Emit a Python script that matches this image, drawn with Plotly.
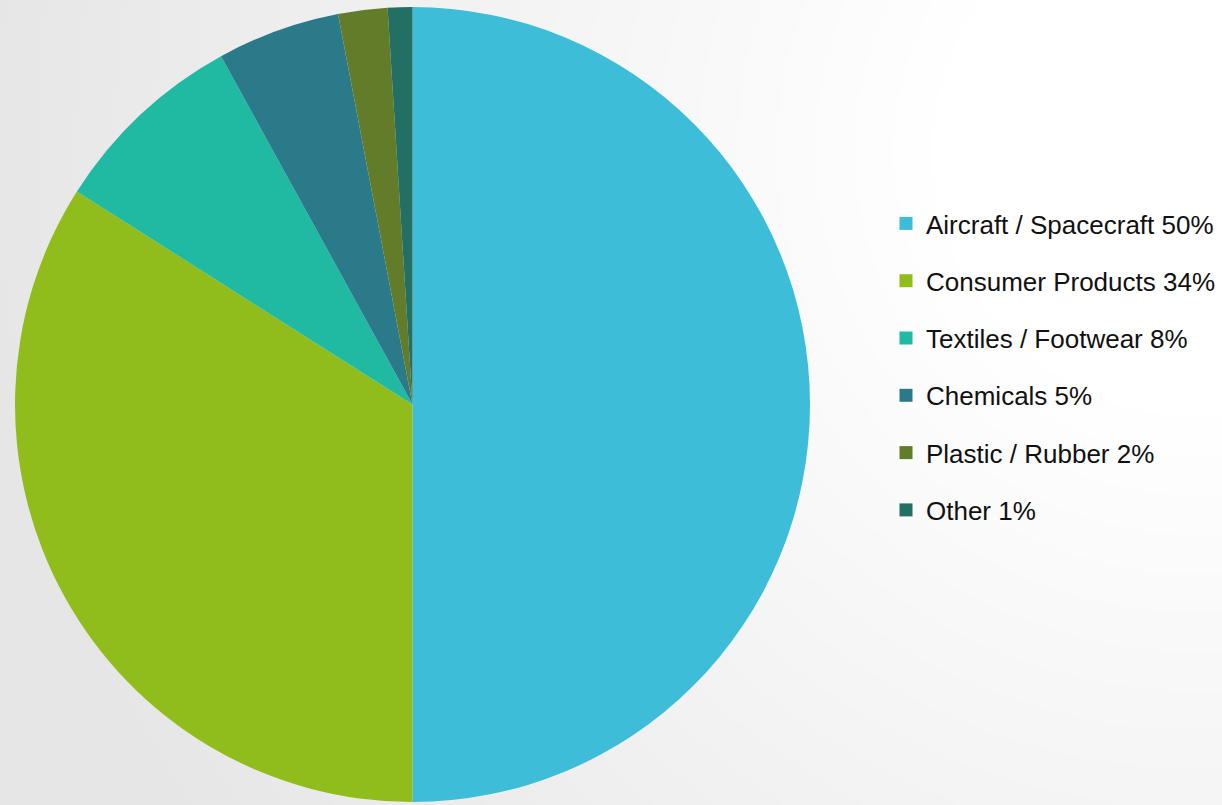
import base64, struct, zlib
import plotly.graph_objects as go

# ---- data ----
categories = ["Aircraft / Spacecraft", "Consumer Products", "Textiles / Footwear",
              "Chemicals", "Plastic / Rubber", "Other"]
shares = [50, 34, 8, 5, 2, 1]
slice_colors = ["#3dbdd8", "#90bd1b", "#20b9a2", "#2a7a8a", "#627c2a", "#236f63"]

legend_labels = [f"{c} {v}%" for c, v in zip(categories, shares)]

# ---- soft radial background (style only) ----
W, H = 306, 202
def make_bg_png():
    rows = []
    cx, cy, r0, k = 1200 / 4, 150 / 4, 250, 0.0256
    for j in range(H):
        row = bytearray([0])
        for i in range(W):
            d = ((i - cx) ** 2 + (j - cy) ** 2) ** 0.5 * 4
            v = int(round(max(230, min(255, 255 - k * max(0.0, d - r0)))))
            row += bytes([v, v, v])
        rows.append(bytes(row))
    raw = b"".join(rows)
    def chunk(t, data):
        c = struct.pack(">I", len(data)) + t + data
        return c + struct.pack(">I", zlib.crc32(t + data) & 0xffffffff)
    png = b"\x89PNG\r\n\x1a\n"
    png += chunk(b"IHDR", struct.pack(">IIBBBBB", W, H, 8, 2, 0, 0, 0))
    png += chunk(b"IDAT", zlib.compress(raw, 9))
    png += chunk(b"IEND", b"")
    return "data:image/png;base64," + base64.b64encode(png).decode()

fig = go.Figure()
fig.add_trace(go.Pie(
    labels=legend_labels,
    values=shares,
    sort=False,
    direction="clockwise",
    rotation=0,
    textinfo="none",
    hoverinfo="label+percent",
    showlegend=False,
    marker=dict(colors=slice_colors, line=dict(width=0)),
    domain=dict(x=[14 / 1222, 811 / 1222], y=[3 / 805, 798 / 805]),
))

# legend entries (one group each so spacing can be set)
for lab, col in zip(legend_labels, slice_colors):
    fig.add_trace(go.Scatter(
        x=[None], y=[None], mode="markers", name=lab, legendgroup=lab,
        marker=dict(symbol="square", size=13, color=col),
        hoverinfo="skip",
    ))

fig.update_layout(
    width=1222, height=805,
    margin=dict(l=0, r=0, t=0, b=0),
    paper_bgcolor="#ffffff",
    plot_bgcolor="rgba(0,0,0,0)",
    xaxis=dict(visible=False),
    yaxis=dict(visible=False),
    font=dict(family="Liberation Sans, Arial, sans-serif", size=26, color="#000000"),
    legend=dict(
        x=886 / 1222, y=(805 - 200) / 805, xanchor="left", yanchor="top",
        bgcolor="rgba(0,0,0,0)", tracegroupgap=20.5,
        font=dict(size=26, color="#111111"),
    ),
    images=[dict(source=make_bg_png(), xref="paper", yref="paper", x=0, y=1,
                 sizex=1, sizey=1, sizing="stretch", layer="below")],
)

fig.write_html("out.html", config={"displayModeBar": False},
               post_script="document.body.style.margin='0';")
